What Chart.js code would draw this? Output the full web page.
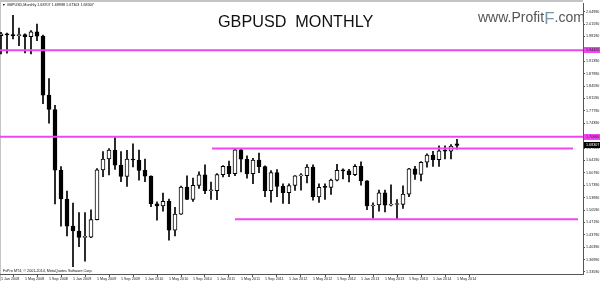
<!DOCTYPE html>
<html><head><meta charset="utf-8">
<script src="https://cdn.jsdelivr.net/npm/chart.js@4.4.1/dist/chart.umd.min.js"></script>
<style>
html,body{margin:0;padding:0;background:#fff;overflow:hidden}
#wrap{position:relative;width:600px;height:281px}
canvas{position:absolute;left:0;top:0}
.t{position:absolute;white-space:nowrap;font-family:"Liberation Sans",Arial,sans-serif;line-height:normal}
.s{transform:scale(0.5);transform-origin:0 0}
</style></head><body>
<div id="wrap">
<canvas id="c" width="600" height="281"></canvas>
<div class="t s" id="hdr" style="left:2px;top:2px;font-size:7.4px;color:#111"></div>
<div class="t" id="title" style="left:218px;top:12px;font-size:16.2px;color:#111">GBPUSD&nbsp; MONTHLY</div>
<div class="t" id="wm" style="left:478px;top:9px;font-size:14px;color:#555">www.Profit<span style="color:#7a98ab;font-size:17px;vertical-align:-2px">F</span>.com</div>
<div class="t s" id="ftr" style="left:3px;top:268px;font-size:7.4px;color:#111">FxPro MT4, © 2001-2014, MetaQuotes Software Corp.</div>
</div>
<script>
const symbol = "GBPUSD";
const period = "Monthly";
// months from Jan 2008 (index 0) to May 2014 (index 76)
const opens = [
1.9843,1.9888,1.9858,1.9840,1.9870,1.9813,1.9943,1.9826,1.8211,1.7816,1.6151,1.5360,
1.4615,1.4483,1.4308,1.4317,1.4794,1.6159,1.6457,1.6704,1.6290,1.5980,1.6453,1.6431,
1.6146,1.5986,1.5230,1.5174,1.5300,1.4505,1.4945,1.5688,1.5346,1.5735,1.6026,1.5587,
1.5592,1.6028,1.6257,1.6054,1.6706,1.6451,1.6056,1.6425,1.6247,1.5588,1.6083,1.5707,
1.5534,1.5731,1.5994,1.6004,1.6237,1.5418,1.5682,1.5680,1.5880,1.6146,1.6132,1.6025,
1.6260,1.5860,1.5170,1.5196,1.5532,1.5195,1.5209,1.5212,1.5496,1.6189,1.6036,1.6368,
1.6562,1.6442,1.6684,1.6670,1.68707];
const highs = [
1.9930,1.9910,2.0397,2.0047,1.9890,1.9982,2.0158,1.9853,1.8664,1.7933,1.6251,1.5580,
1.5250,1.4986,1.4985,1.5065,1.6193,1.6660,1.6742,1.7043,1.6660,1.6695,1.6876,1.6705,
1.6457,1.5995,1.5286,1.5524,1.5362,1.5133,1.5718,1.5995,1.5933,1.6107,1.6300,1.5823,
1.6060,1.6279,1.6403,1.6745,1.6747,1.6547,1.6476,1.6618,1.6268,1.6140,1.6166,1.5779,
1.5780,1.6000,1.6060,1.6302,1.6300,1.5776,1.5778,1.5907,1.6309,1.6190,1.6172,1.6308,
1.6380,1.5864,1.5257,1.5605,1.5605,1.5751,1.5343,1.5719,1.6199,1.6257,1.6385,1.6602,
1.6667,1.6822,1.6822,1.6852,1.69998];
const lows = [
1.9339,1.9363,1.9750,1.9564,1.9366,1.9337,1.9705,1.7974,1.7443,1.5226,1.4616,1.4349,
1.3503,1.4051,1.3659,1.4300,1.4784,1.5972,1.6020,1.6169,1.5837,1.5707,1.6244,1.5877,
1.5833,1.5153,1.4780,1.5026,1.4229,1.4350,1.4939,1.5342,1.5294,1.5649,1.5504,1.5351,
1.5343,1.5963,1.5975,1.6002,1.6106,1.5930,1.5778,1.6086,1.5426,1.5272,1.5423,1.5237,
1.5233,1.5598,1.5600,1.5803,1.5332,1.5269,1.5346,1.5489,1.5856,1.5913,1.5826,1.6004,
1.5738,1.5071,1.4832,1.5029,1.5005,1.5173,1.4813,1.5102,1.5423,1.5895,1.5854,1.6231,
1.6252,1.6252,1.6461,1.6461,1.67303];
const closes = [
1.9888,1.9858,1.9840,1.9870,1.9813,1.9943,1.9826,1.8211,1.7816,1.6151,1.5360,1.4615,
1.4483,1.4308,1.4317,1.4794,1.6159,1.6457,1.6704,1.6290,1.5980,1.6453,1.6431,1.6146,
1.5986,1.5230,1.5174,1.5300,1.4505,1.4945,1.5688,1.5346,1.5735,1.6026,1.5587,1.5592,
1.6028,1.6257,1.6054,1.6706,1.6451,1.6056,1.6425,1.6247,1.5588,1.6083,1.5707,1.5534,
1.5731,1.5994,1.6004,1.6237,1.5418,1.5682,1.5680,1.5880,1.6146,1.6132,1.6025,1.6260,
1.5860,1.5170,1.5196,1.5532,1.5195,1.5209,1.5212,1.5496,1.6189,1.6036,1.6368,1.6562,
1.6442,1.6684,1.6670,1.6810,1.68307];
const xTickIndex = [0,4,8,12,16,20,24,28,32,36,40,44,48,52,56,60,64,68,72,76];
const xTickLabels = ["1 Jan 2008","1 May 2008","1 Sep 2008","1 Jan 2009","1 May 2009","1 Sep 2009",
"1 Jan 2010","1 May 2010","1 Sep 2010","1 Jan 2011","1 May 2011","1 Sep 2011","1 Jan 2012",
"1 May 2012","1 Sep 2012","1 Jan 2013","1 May 2013","1 Sep 2013","1 Jan 2014","1 May 2014"];
const yTicks = [1.3359,1.3699,1.4039,1.4379,1.4719,1.5059,1.5399,1.5739,1.6079,1.6419,1.6759,
1.7099,1.7439,1.7779,1.8119,1.8459,1.8799,1.9139,1.9479,1.9819,2.0159,2.0499];
// horizontal levels drawn on the chart
const levelValues = [1.9442, 1.7066, 1.6748, 1.4803];
const levelFrom = [-1, -1, 35.17, 39];
const levelTo = [98, 98, 95.33, 96.17];
const levelLabelled = [true, true, false, false];

document.getElementById('hdr').textContent = '\u25BC ' + symbol + ',' + period + ' ' +
  opens[76].toFixed(5) + ' ' + highs[76].toFixed(5) + ' ' + lows[76].toFixed(5) + ' ' + closes[76].toFixed(5);

const idx = opens.map((_, i) => i);
const PINK = '#f046f0';
const datasets = [
  { type:'bar', label:'body', order:0,
    data: idx.map(i => ({x:i, y:[opens[i], closes[i]]})),
    backgroundColor: idx.map(i => closes[i] >= opens[i] ? '#ffffff' : '#000000'),
    borderColor:'#000', borderWidth:1, borderSkipped:false, barThickness:4, minBarLength:1, grouped:false },
  { type:'bar', label:'wick', order:1,
    data: idx.map(i => ({x:i, y:[lows[i], highs[i]]})),
    backgroundColor:'#000', borderWidth:0, barThickness:1, grouped:false }
];
levelValues.forEach((v, k) => {
  datasets.push({ type:'line', label:'level'+k, order:-1,
    data:[{x:levelFrom[k], y:v},{x:levelTo[k], y:v}],
    borderColor:PINK, borderWidth:2, pointRadius:0, fill:false });
});

const frame = {
  id:'frame',
  beforeDraw(chart){
    const {ctx, chartArea} = chart;
    ctx.save();
    ctx.fillStyle = '#fff'; ctx.fillRect(0,0,chart.width,chart.height);
    ctx.fillStyle = '#c4c4c4';
    ctx.fillRect(0,0,chartArea.right,2);
    ctx.fillRect(0,0,1,chart.height);
    ctx.restore();
  },
  afterDraw(chart){
    const {ctx, chartArea, scales:{y}} = chart;
    ctx.save();
    ctx.font = '3.7px "Liberation Sans", Arial, sans-serif';
    ctx.textBaseline = 'middle';
    const box = (v, bg, fg) => {
      const py = Math.round(y.getPixelForValue(v));
      ctx.fillStyle = bg; ctx.fillRect(chartArea.right + 1, py - 3, 17, 6);
      ctx.fillStyle = fg; ctx.fillText(v.toFixed(5), chartArea.right + 3, py + 0.3);
    };
    levelValues.forEach((v,k) => { if (levelLabelled[k]) box(v, PINK, '#222'); });
    box(closes[closes.length-1], '#000', '#fff');
    ctx.restore();
  }
};

new Chart(document.getElementById('c'), {
  data:{ datasets },
  options:{
    responsive:false, animation:false, devicePixelRatio:1,
    layout:{ padding:{ top:3, left:0, right:0, bottom:0 } },
    plugins:{ legend:{display:false}, tooltip:{enabled:false} },
    scales:{
      x:{ type:'linear', min:-1/6, max:97, offset:false,
        grid:{ drawOnChartArea:false, drawTicks:true, tickLength:3, color:'#555' },
        border:{ display:true, color:'#555', width:1 },
        ticks:{ autoSkip:false, maxRotation:0, align:'start', padding:0, color:'#222',
          font:{ family:'"Liberation Sans", Arial, sans-serif', size:3.7 },
          callback:(v, i) => xTickLabels[i] },
        afterBuildTicks:(s) => { s.ticks = xTickIndex.map(v => ({value:v})); },
        afterFit:(s) => { s.height = 7; } },
      y:{ type:'linear', position:'right', min:1.3304, max:2.0730,
        grid:{ drawOnChartArea:false, drawTicks:true, tickLength:2, color:'#555' },
        border:{ display:true, color:'#555', width:1 },
        ticks:{ padding:1, color:'#222', crossAlign:'near',
          font:{ family:'"Liberation Sans", Arial, sans-serif', size:3.7 },
          callback:(v) => Number(v).toFixed(5) },
        afterBuildTicks:(s) => { s.ticks = yTicks.map(v => ({value:v})); },
        afterFit:(s) => { s.width = 17; } }
    }
  },
  plugins:[frame]
});
</script>
</body></html>
